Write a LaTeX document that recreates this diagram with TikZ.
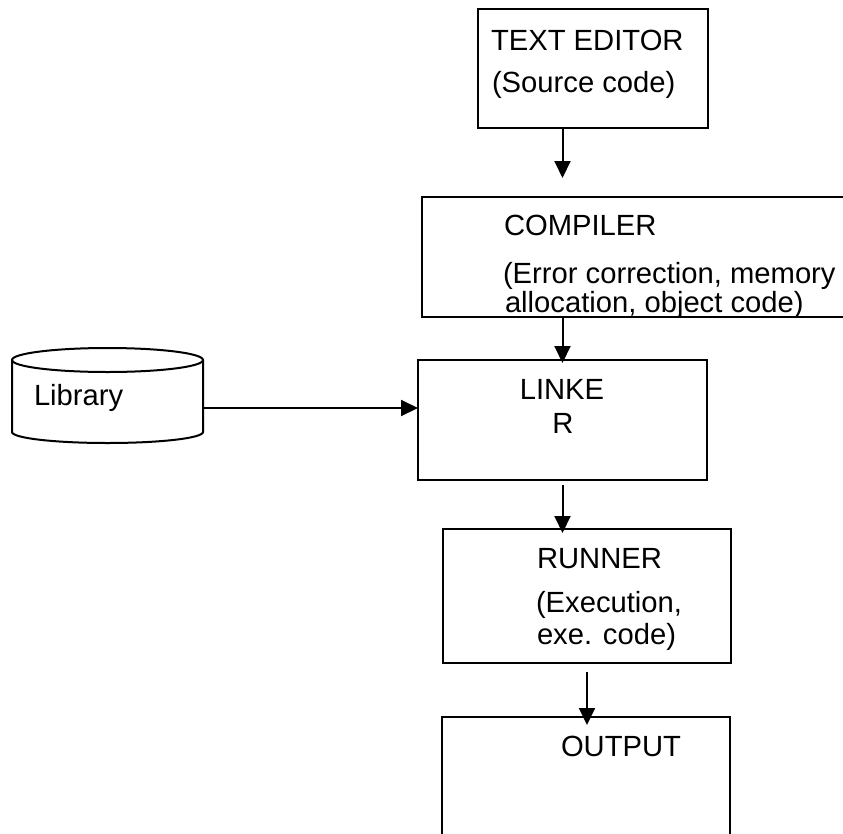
\documentclass[tikz,border=0pt]{standalone}
\usepackage{fontspec}
\setmainfont{Liberation Sans}
\usetikzlibrary{arrows.meta}

\newcommand{\boxfont}{\fontsize{29.2}{34}\selectfont}

\begin{document}
\begin{tikzpicture}[x=1pt, y=-1pt, line width=2pt,
        box/.style={draw, rectangle, inner sep=0, outer sep=0},
        txt/.style={font=\boxfont, inner sep=0, anchor=base west},
        arr/.style={-{Triangle[width=16pt,length=17pt]}}]
            \useasboundingbox (0, 0) rectangle (843, 833);

            \node[box, minimum width=230pt, minimum height=119pt] (te) at (593, 68.5) {};
            \node[box, minimum width=448pt, minimum height=120pt] (comp) at (646, 257) {};
            \node[box, minimum width=289pt, minimum height=120pt] (link) at (562.5, 420) {};
            \node[box, minimum width=288pt, minimum height=134pt] (run) at (587, 596) {};
            \node[box, minimum width=288pt, minimum height=134pt] (out) at (586, 784) {};

            % library drum
            \draw (107.5, 360) ellipse [x radius=95.5pt, y radius=12pt];
            \draw (12, 360) -- (12, 432) arc[start angle=180, end angle=360, x radius=95.5pt, y radius=11pt] -- (203, 360);
            \coordinate (libout) at (203, 408);

            \node[txt] (te1) at (490, 50) {TEXT EDITOR};
            \node[txt] (te2) at (491, 92) {(Source code)};
            \node[txt] (comp1) at (503, 235) {COMPILER};
            \node[txt] (comp2) at (502, 283) {(Error correction, memory};
            \node[txt] (comp3) at (504, 312) {allocation, object code)};
            \node[txt, anchor=base] (link1) at (562, 399) {LINKE};
            \node[txt, anchor=base] (link2) at (563, 433) {R};
            \node[txt] (run1) at (536, 568) {RUNNER};
            \node[txt] (run2) at (535, 612) {(Execution,};
            \node[txt] (run3) at (536, 644) {exe. code)};
            \node[txt] (out1) at (560, 756) {OUTPUT};
            \node[txt] (lib) at (33, 405) {Library};

            \draw[arr, shorten >=19pt] (te.south -| link.north) -- (comp.north -| link.north);
            \draw[arr, shorten >=-3pt] (comp.south -| link.north) -- (link.north);
            \draw[arr, shorten <=5pt, shorten >=-4pt] (link.south) -- (run.north -| link.south);
            \draw[arr, shorten <=9pt, shorten >=-8pt] (run.south) -- (out.north -| run.south);
            \draw[arr] (libout) -- (libout -| link.west);

        \end{tikzpicture}
\end{document}
